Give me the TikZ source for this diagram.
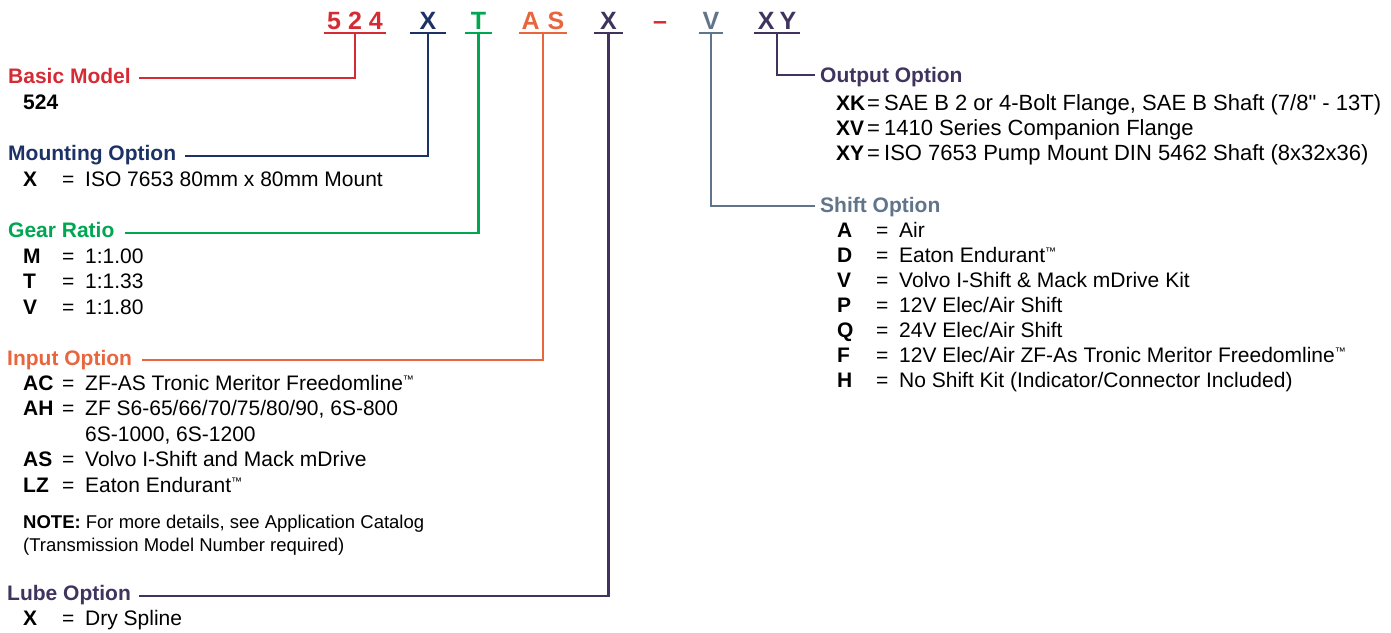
\documentclass[tikz,border=0pt]{standalone}
\usepackage{fontspec}
\newfontfamily\chartfont{Liberation Sans}
\usetikzlibrary{positioning}
\definecolor{modelred}{RGB}{213,43,52}
\definecolor{mountblue}{RGB}{28,50,102}
\definecolor{geargreen}{RGB}{0,166,81}
\definecolor{inputorange}{RGB}{232,102,62}
\definecolor{lubepurple}{RGB}{64,52,94}
\definecolor{shiftslate}{RGB}{96,116,138}
\tikzset{
    code/.style={font=\chartfont\bfseries\fontsize{25}{25}\selectfont, inner sep=0pt, text depth=4pt, anchor=base},
    head/.style={font=\chartfont\bfseries\fontsize{21}{25}\selectfont, inner sep=0pt, anchor=base west},
    row/.style={font=\chartfont\fontsize{21}{25}\selectfont, inner sep=0pt, anchor=base west},
    widerow/.style={row, font=\chartfont\fontsize{22}{25}\selectfont},
    notetext/.style={row, font=\chartfont\fontsize{18.5}{23}\selectfont},
    bar/.style={line width=2.4pt},
    conn/.style={line width=2.4pt}
}
\newcommand{\optline}[2]{\makebox[39pt][l]{\textbf{#1}}\makebox[23pt][l]{=}#2}
\newcommand{\optlinewide}[2]{\makebox[31pt][l]{\fontsize{21}{25}\selectfont\textbf{#1}}\makebox[17pt][l]{=}#2}
\newcommand{\tmark}{\raisebox{7pt}{\fontsize{11}{11}\selectfont ™}}

\begin{document}
\begin{tikzpicture}[x=1pt, y=-1pt]
\useasboundingbox (0,0) rectangle (1391,632);

% Model number code
\node[code, modelred, minimum width=62pt] (cmodel) at (355,29) {5\hspace{7pt}2\hspace{7pt}4};
\node[code, mountblue, minimum width=36pt] (cmount) at (428,29) {X};
\node[code, geargreen, minimum width=27pt] (cgear) at (478.5,29) {T};
\node[code, inputorange, minimum width=48pt] (cinput) at (543,29) {A\hspace{8pt}S};
\node[code, lubepurple, minimum width=29pt] (clube) at (608.5,29) {X};
\node[code, modelred] (cdash) at (660,29) {–};
\node[code, shiftslate, minimum width=24pt] (cshift) at (711,29) {V};
\node[code, lubepurple, minimum width=46pt] (coutput) at (777,29) {X\hspace{5pt}Y};

\draw[bar, modelred] (cmodel.south west) -- (cmodel.south east);
\draw[bar, mountblue] (cmount.south west) -- (cmount.south east);
\draw[bar, geargreen] (cgear.south west) -- (cgear.south east);
\draw[bar, inputorange] (cinput.south west) -- (cinput.south east);
\draw[bar, lubepurple] (clube.south west) -- (clube.south east);
\draw[bar, shiftslate] (cshift.south west) -- (cshift.south east);
\draw[bar, lubepurple] (coutput.south west) -- (coutput.south east);

% Left column
\node[head, modelred] (basic) at (8,83) {Basic Model};
\node[row] (basicval) at ([xshift=15pt,yshift=-26pt]basic.base west) {\textbf{524}};

\node[head, mountblue] (mount) at (8,160) {Mounting Option};
\node[row] (mountX) at ([xshift=15pt,yshift=-26pt]mount.base west) {\optline{X}{ISO 7653 80mm x 80mm Mount}};

\node[head, geargreen] (gear) at (8,237) {Gear Ratio};
\node[row] (gearM) at ([xshift=15pt,yshift=-26pt]gear.base west) {\optline{M}{1:1.00}};
\node[row] (gearT) at ([yshift=-25.5pt]gearM.base west) {\optline{T}{1:1.33}};
\node[row] (gearV) at ([yshift=-25.5pt]gearT.base west) {\optline{V}{1:1.80}};

\node[head, inputorange] (input) at (7,365) {Input Option};
\node[row] (inputAC) at ([xshift=16pt,yshift=-25pt]input.base west) {\optline{AC}{ZF-AS Tronic Meritor Freedomline\tmark}};
\node[row] (inputAH) at ([yshift=-25.5pt]inputAC.base west) {\optline{AH}{ZF S6-65/66/70/75/80/90, 6S-800}};
\node[row] (inputAHb) at ([yshift=-25.5pt]inputAH.base west) {\hspace*{62pt}6S-1000, 6S-1200};
\node[row] (inputAS) at ([yshift=-25.5pt]inputAHb.base west) {\optline{AS}{Volvo I-Shift and Mack mDrive}};
\node[row] (inputLZ) at ([yshift=-26pt]inputAS.base west) {\optline{LZ}{Eaton Endurant\tmark}};
\node[notetext] (note) at ([yshift=-36pt]inputLZ.base west) {\textbf{NOTE:} For more details, see Application Catalog};
\node[notetext] (noteb) at ([yshift=-23pt]note.base west) {(Transmission Model Number required)};

\node[head, lubepurple] (lube) at (7,600) {Lube Option};
\node[row] (lubeX) at ([xshift=16pt,yshift=-25pt]lube.base west) {\optline{X}{Dry Spline}};

% Right column
\node[head, lubepurple] (output) at (820,82) {Output Option};
\node[widerow] (outXK) at ([xshift=16pt,yshift=-28pt]output.base west) {\optlinewide{XK}{SAE B 2 or 4-Bolt Flange, SAE B Shaft (7/8\symbol{34} - 13T)}};
\node[widerow] (outXV) at ([yshift=-25pt]outXK.base west) {\optlinewide{XV}{1410 Series Companion Flange}};
\node[widerow] (outXY) at ([yshift=-25pt]outXV.base west) {\optlinewide{XY}{ISO 7653 Pump Mount DIN 5462 Shaft (8x32x36)}};

\node[head, shiftslate] (shift) at (820,212) {Shift Option};
\node[row] (shiftA) at ([xshift=17pt,yshift=-25pt]shift.base west) {\optline{A}{Air}};
\node[row] (shiftD) at ([yshift=-25pt]shiftA.base west) {\optline{D}{Eaton Endurant\tmark}};
\node[row] (shiftV) at ([yshift=-25pt]shiftD.base west) {\optline{V}{Volvo I-Shift \& Mack mDrive Kit}};
\node[row] (shiftP) at ([yshift=-25pt]shiftV.base west) {\optline{P}{12V Elec/Air Shift}};
\node[row] (shiftQ) at ([yshift=-25pt]shiftP.base west) {\optline{Q}{24V Elec/Air Shift}};
\node[row] (shiftF) at ([yshift=-25pt]shiftQ.base west) {\optline{F}{12V Elec/Air ZF-As Tronic Meritor Freedomline\tmark}};
\node[row] (shiftH) at ([yshift=-25pt]shiftF.base west) {\optline{H}{No Shift Kit (Indicator/Connector Included)}};

% Connectors
\draw[conn, modelred] (cmodel.south) |- ([xshift=8pt,yshift=5pt]basic.base east);
\draw[conn, mountblue] (cmount.south) |- ([xshift=9pt,yshift=4pt]mount.base east);
\draw[conn, geargreen] (cgear.south) |- ([xshift=10pt,yshift=4pt]gear.base east);
\draw[conn, inputorange] (cinput.south) |- ([xshift=10pt,yshift=5pt]input.base east);
\draw[conn, lubepurple] (clube.south) |- ([xshift=8pt,yshift=4pt]lube.base east);
\draw[conn, shiftslate] (cshift.south) |- ([xshift=-5pt,yshift=6pt]shift.base west);
\draw[conn, lubepurple] (coutput.south) |- ([xshift=-5pt,yshift=7pt]output.base west);

\end{tikzpicture}
\end{document}
